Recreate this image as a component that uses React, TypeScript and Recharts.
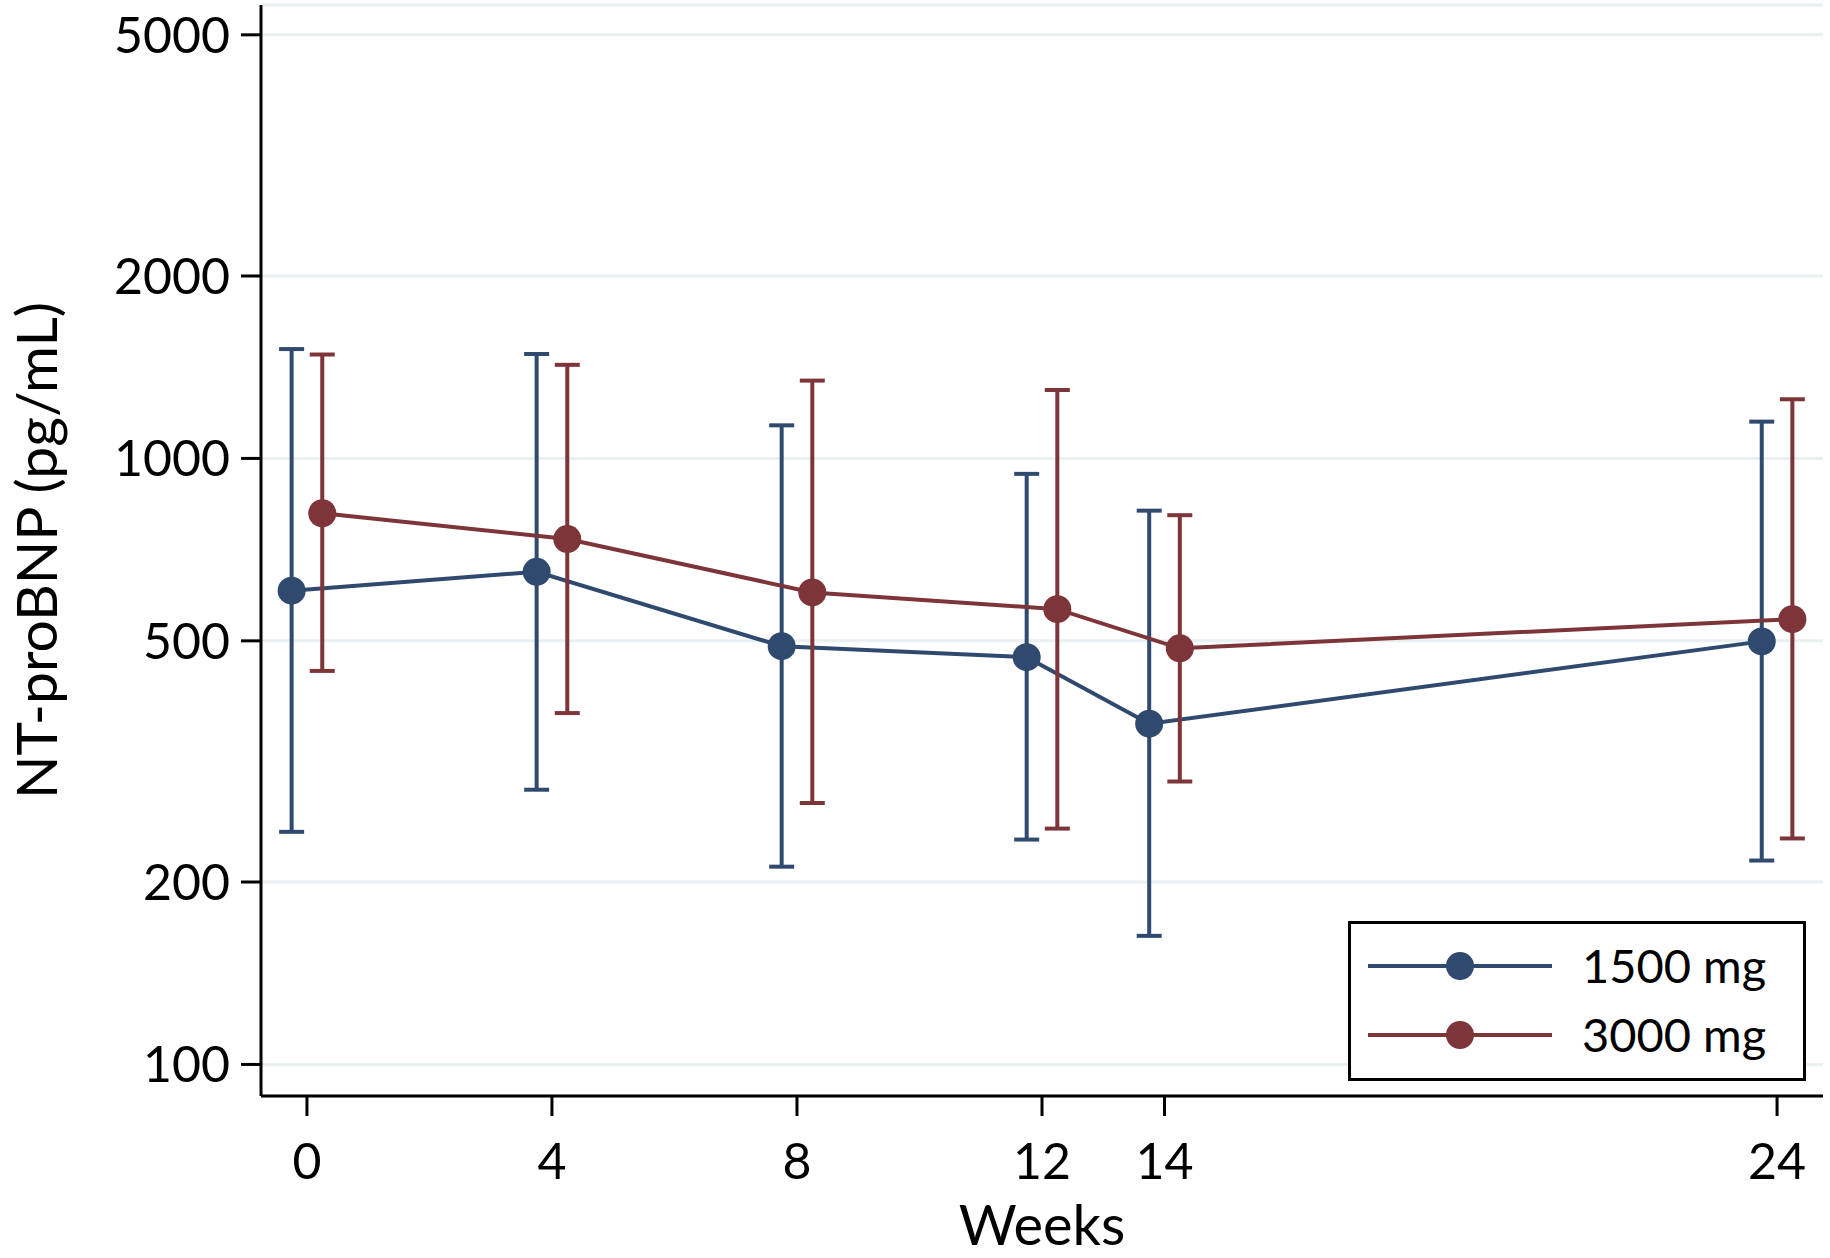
import React from 'react';
import { LineChart, Line, XAxis, YAxis, CartesianGrid, ErrorBar, Legend } from 'recharts';

const weeks = [0, 4, 8, 12, 14, 24];
const weekTicks = [0, 4, 8, 12, 14, 24];
const valueTicks = [100, 200, 500, 1000, 2000, 5000];

// 1500 mg group: geometric mean and 95% CI
const mean1500 = [605, 650, 490, 470, 365, 499];
const lower1500 = [242, 284, 212, 235, 163, 217];
const upper1500 = [1515, 1487, 1134, 943, 820, 1150];

// 3000 mg group
const mean3000 = [812, 736, 601, 564, 486, 543];
const lower3000 = [446, 380, 270, 245, 293, 236];
const upper3000 = [1484, 1427, 1344, 1297, 806, 1252];

const BLUE = '#2f4a6e';
const RED = '#7e3539';
const FONT = 'Lato, "Noto Sans", sans-serif';
const DODGE = 0.25;

const buildSeries = (mean: number[], lower: number[], upper: number[], shift: number) =>
  weeks.map((w, i) => ({
    x: w + shift,
    y: mean[i],
    err: [mean[i] - lower[i], upper[i] - mean[i]],
  }));

const data1500 = buildSeries(mean1500, lower1500, upper1500, -DODGE);
const data3000 = buildSeries(mean3000, lower3000, upper3000, DODGE);

const renderLegend = (props: any) => {
  const items = props.payload || [];
  return (
    <svg width={458} height={160} style={{ display: 'block' }}>
      <rect x={1.5} y={1.5} width={455} height={157} fill="#fff" stroke="#000" strokeWidth={3} />
      {items.map((item: any, i: number) => {
        const cy = 45 + i * 69;
        return (
          <g key={item.value}>
            <line x1={20} x2={204} y1={cy} y2={cy} stroke={item.color} strokeWidth={4} />
            <circle cx={112} cy={cy} r={14} fill={item.color} />
            <text x={234} y={cy} dy="0.36em" fontSize={47} fill="#000" fontFamily={FONT}>
              {item.value}
            </text>
          </g>
        );
      })}
    </svg>
  );
};

const App: React.FC = () => {
  return (
    <div style={{ position: 'absolute', left: 0, top: 0, width: 1830, height: 1258, background: '#fff', fontFamily: FONT }}>
      <LineChart width={1830} height={1258} margin={{ top: 5, right: 7, left: 0, bottom: 0 }}>
        <CartesianGrid vertical={false} stroke="#e8f0f2" strokeWidth={3} />
        <XAxis
          dataKey="x"
          type="number"
          domain={[-0.75, 24.75]}
          ticks={weekTicks}
          allowDataOverflow
          height={162}
          tickSize={20}
          tickMargin={27}
          axisLine={{ stroke: '#000', strokeWidth: 3 }}
          tickLine={{ stroke: '#000', strokeWidth: 3 }}
          tick={{ fontSize: 50, fill: '#000', fontFamily: FONT }}
          label={{ value: 'Weeks', position: 'insideBottom', offset: 13, style: { fontSize: 56, fill: '#000', fontFamily: FONT } }}
        />
        <YAxis
          type="number"
          scale="log"
          domain={[88.7, 5600]}
          ticks={valueTicks}
          allowDataOverflow
          width={261}
          tickSize={20}
          tickMargin={11}
          axisLine={{ stroke: '#000', strokeWidth: 3 }}
          tickLine={{ stroke: '#000', strokeWidth: 3 }}
          tick={{ fontSize: 50, fill: '#000', fontFamily: FONT }}
          label={{
            value: 'NT-proBNP (pg/mL)',
            angle: -90,
            position: 'insideLeft',
            offset: 37,
            style: { textAnchor: 'middle', fontSize: 57, fill: '#000', fontFamily: FONT },
          }}
        />
        <Legend
          layout="vertical"
          align="center"
          verticalAlign="middle"
          content={renderLegend}
          wrapperStyle={{ left: 1348, top: 921, width: 458, height: 160 }}
        />
        <Line
          data={data1500}
          dataKey="y"
          name="1500 mg"
          type="linear"
          stroke={BLUE}
          strokeWidth={4}
          dot={{ r: 14, fill: BLUE, stroke: BLUE, strokeWidth: 0 }}
          activeDot={false}
          isAnimationActive={false}
        >
          <ErrorBar dataKey="err" direction="y" width={12.5} stroke={BLUE} strokeWidth={4} isAnimationActive={false} />
        </Line>
        <Line
          data={data3000}
          dataKey="y"
          name="3000 mg"
          type="linear"
          stroke={RED}
          strokeWidth={4}
          dot={{ r: 14, fill: RED, stroke: RED, strokeWidth: 0 }}
          activeDot={false}
          isAnimationActive={false}
        >
          <ErrorBar dataKey="err" direction="y" width={12.5} stroke={RED} strokeWidth={4} isAnimationActive={false} />
        </Line>
      </LineChart>
    </div>
  );
};

export default App;
